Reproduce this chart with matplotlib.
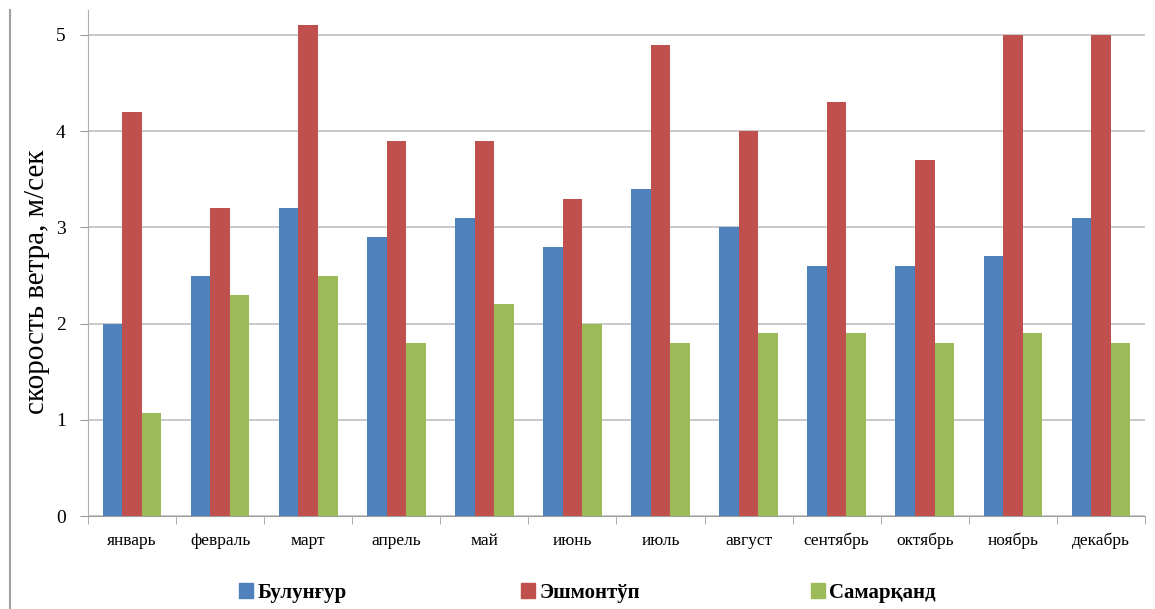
import matplotlib.pyplot as plt
import matplotlib.patches as mpatches
from matplotlib.lines import Line2D
import numpy as np

plt.rcParams['font.family'] = ['Liberation Serif', 'DejaVu Serif']

months = ['январь', 'февраль', 'март', 'апрель', 'май', 'июнь',
          'июль', 'август', 'сентябрь', 'октябрь', 'ноябрь', 'декабрь']
bulungur = [2.0, 2.5, 3.2, 2.9, 3.1, 2.8, 3.4, 3.0, 2.6, 2.6, 2.7, 3.1]
eshmontup = [4.2, 3.2, 5.1, 3.9, 3.9, 3.3, 4.9, 4.0, 4.3, 3.7, 5.0, 5.0]
samarkand = [1.07, 2.3, 2.5, 1.8, 2.2, 2.0, 1.8, 1.9, 1.9, 1.8, 1.9, 1.8]

names = ['Булунғур', 'Эшмонтўп', 'Самарқанд']
colors = ['#4f81bd', '#c0504d', '#9bbb59']

fig = plt.figure(figsize=(11.55, 6.09), dpi=100)
ax = fig.add_axes([0.0762, 0.1527, 0.9151, 0.8309])

x = np.arange(len(months))
w = 0.222
for i, vals in enumerate([bulungur, eshmontup, samarkand]):
    ax.bar(x + (i - 1) * w, vals, width=w, color=colors[i], zorder=3)

ax.set_xlim(-0.5, len(months) - 0.5)
ax.set_ylim(0, 5.26)
ax.set_yticks([0, 1, 2, 3, 4, 5])
ax.yaxis.grid(True, color='#c0c0c0', linewidth=1.2, zorder=0)
ax.set_xticks(x)
ax.set_xticklabels(months, fontsize=12.5)
ax.set_xticks(np.arange(-0.5, len(months)), minor=True)
ax.tick_params(axis='x', which='major', length=0, pad=12)
ax.tick_params(axis='x', which='minor', length=6, color='#a0a0a0')
ax.tick_params(axis='y', length=6, color='#a0a0a0', labelsize=14, pad=10)

for s in ['top', 'right']:
    ax.spines[s].set_visible(False)
ax.spines['left'].set_color('#b0b0b0')
ax.spines['bottom'].set_color('#a0a0a0')

fig.text(0.032, 0.538, 'скорость ветра, м/сек', rotation=90,
         fontsize=21, ha='center', va='center')

# left border line
fig.add_artist(Line2D([0.0087, 0.0087], [0.0, 0.984], color='#a0a0a0', linewidth=1.5))

leg_x = [0.1905, 0.4346, 0.6857]
for i in range(3):
    h = mpatches.Patch(color=colors[i])
    fig.legend(handles=[h], labels=[names[i]], loc='center left',
               bbox_to_anchor=(leg_x[i], 0.027), frameon=False,
               prop={'size': 15, 'weight': 'bold'},
               handlelength=0.7, handleheight=0.7, handletextpad=0.2)

plt.savefig('out.png', dpi=100)
